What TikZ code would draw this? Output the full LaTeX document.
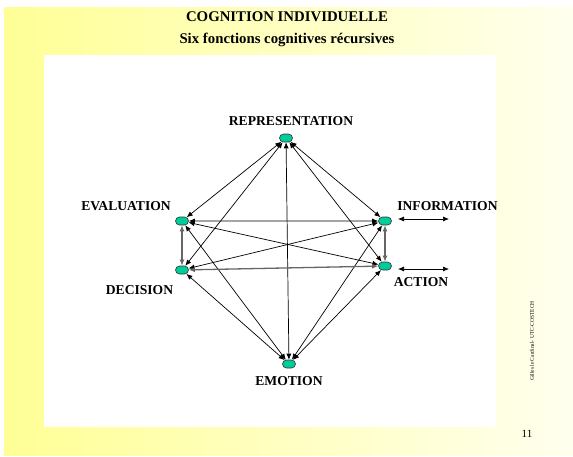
\documentclass[tikz,border=0pt]{standalone}
\usepackage{fontspec}
\setmainfont{Liberation Serif}
\usetikzlibrary{arrows.meta,shapes.misc}
\definecolor{bgyel}{RGB}{255,255,150}
\definecolor{bgpale}{RGB}{255,255,238}
\definecolor{nodegreen}{RGB}{0,204,153}
\begin{document}
\begin{tikzpicture}[x=1pt,y=-1pt,
  fn/.style={rounded rectangle,draw=black!80,fill=nodegreen,line width=0.6pt,minimum width=13pt,minimum height=8pt,inner sep=0pt},
  lbl/.style={font=\fontsize{13.6}{15}\selectfont\bfseries,inner sep=0pt},
  arr/.style={{Latex[length=6pt,width=5pt]}-{Latex[length=6pt,width=5pt]},line width=0.7pt},
  garr/.style={arr,draw=black!60,line width=1.3pt}]
\useasboundingbox (0,0) rectangle (573,456);
\fill[white] (0,0) rectangle (573,456);
\shade[left color=bgyel,right color=bgpale] (4,7) rectangle (573,455);
\fill[white] (44,55) rectangle (496,427);
% titles
\node[font=\fontsize{14.8}{22}\selectfont\bfseries,align=center,inner sep=0pt] (title) at (287,29) {COGNITION INDIVIDUELLE\\Six fonctions cognitives récursives};
% function nodes
\node[fn] (rep) at (286,138) {};
\node[fn] (eva) at (182,221) {};
\node[fn] (dec) at (182,270) {};
\node[fn] (inf) at (385,221) {};
\node[fn] (act) at (385,266) {};
\node[fn] (emo) at (289,364) {};
% labels
\node[lbl] (lrep) at (291,121) {REPRESENTATION};
\node[lbl] (leva) at (126,206) {EVALUATION};
\node[lbl] (ldec) at (139.5,290) {DECISION};
\node[lbl] (linf) at (447.5,206) {INFORMATION};
\node[lbl] (lact) at (421,282) {ACTION};
\node[lbl] (lemo) at (289,381) {EMOTION};
% edges
\draw[arr] (rep) -- (eva);
\draw[arr] (rep) -- (dec);
\draw[arr] (rep) -- (emo);
\draw[arr] (rep) -- (inf);
\draw[arr] (rep) -- (act);
\draw[arr] (eva) -- (inf);
\draw[arr] (eva) -- (act);
\draw[arr] (eva) -- (emo);
\draw[arr] (dec) -- (inf);
\draw[arr] (dec) -- (emo);
\draw[arr] (inf) -- (emo);
\draw[arr] (act) -- (emo);
\draw[garr] (eva) -- (dec);
\draw[garr] (dec) -- (act);
\draw[garr] (inf) -- (act);
% external arrows
\coordinate (ia) at (398,219);
\coordinate (ib) at (449,219);
\coordinate (aa) at (398,269);
\coordinate (ab) at (449,269);
\draw[arr] (ia) -- (ib);
\draw[arr] (aa) -- (ab);
% footer
\node[font=\fontsize{5.5}{6}\selectfont,rotate=90,inner sep=0pt] (auth) at (532,341) {Gilles le Cardinal- UTC-COSTECH};
\node[font=\fontsize{11}{12}\selectfont,inner sep=0pt] (page) at (527,434) {11};
\end{tikzpicture}
\end{document}
